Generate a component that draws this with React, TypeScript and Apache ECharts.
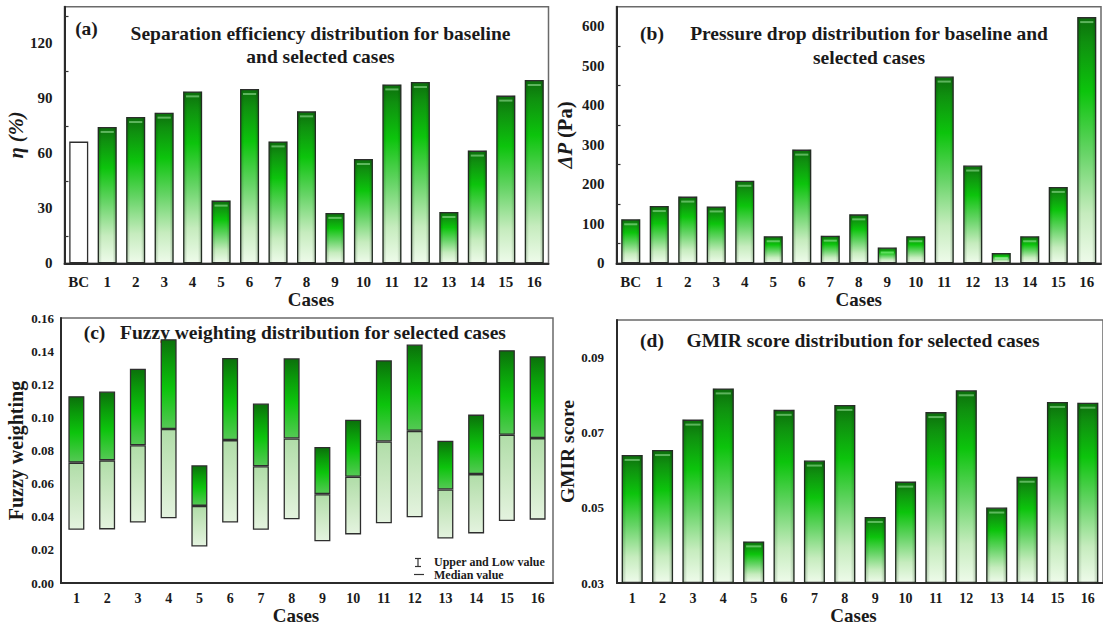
import React, { useEffect, useRef } from 'react';
import * as echarts from 'echarts';

const casesWithBaseline = ['BC', '1', '2', '3', '4', '5', '6', '7', '8', '9', '10', '11', '12', '13', '14', '15', '16'];
const cases = ['1', '2', '3', '4', '5', '6', '7', '8', '9', '10', '11', '12', '13', '14', '15', '16'];

const efficiency = [66.4, 74.4, 79.8, 82.2, 93.8, 34.2, 95.1, 66.5, 82.9, 27.5, 56.9, 97.6, 98.9, 28.0, 61.5, 91.5, 100.0];
const pressureDrop = [111.5, 145, 169, 144, 209, 68.5, 288, 70, 124, 40, 68.5, 473, 247.6, 26, 68.5, 193.5, 623.7];

const fuzzyLow = [0.0322, 0.0324, 0.0365, 0.0391, 0.0221, 0.0365, 0.0322, 0.0385, 0.0253, 0.0294, 0.0361, 0.0397, 0.0269, 0.0300, 0.0375, 0.0383];
const fuzzyMedian = [0.0727, 0.0741, 0.0832, 0.0930, 0.0466, 0.0863, 0.0705, 0.0873, 0.0537, 0.0642, 0.0855, 0.0919, 0.0565, 0.0658, 0.0895, 0.0875];
const fuzzyUpper = [0.1128, 0.1156, 0.1294, 0.1472, 0.0711, 0.1359, 0.1084, 0.1357, 0.0822, 0.0986, 0.1345, 0.1440, 0.0859, 0.1017, 0.1406, 0.1369];

const gmirScore = [0.0641, 0.0654, 0.0735, 0.0818, 0.0411, 0.0761, 0.0626, 0.0774, 0.0476, 0.0570, 0.0755, 0.0813, 0.0501, 0.0583, 0.0782, 0.0780];

const GMIR_MIN = 0.03;
const GMIR_MAX = 0.1;

const FONT = '"Liberation Serif", "Times New Roman", Times, serif';
const TEXT = '#1a1a1a';

const barGradient = () =>
  new echarts.graphic.LinearGradient(0, 0, 0, 1, [
    { offset: 0, color: '#0c6f0c' },
    { offset: 0.1, color: '#0f900f' },
    { offset: 0.3, color: '#0cc40c' },
    { offset: 0.55, color: '#66d466' },
    { offset: 0.8, color: '#c6ecbe' },
    { offset: 1, color: '#eefbea' },
  ]);

const edgeShade = () =>
  new echarts.graphic.LinearGradient(0, 0, 1, 0, [
    { offset: 0, color: 'rgba(0,40,0,0.28)' },
    { offset: 0.22, color: 'rgba(0,40,0,0)' },
    { offset: 0.78, color: 'rgba(0,40,0,0)' },
    { offset: 1, color: 'rgba(0,40,0,0.28)' },
  ]);

const upperGradient = () =>
  new echarts.graphic.LinearGradient(0, 0, 0, 1, [
    { offset: 0, color: '#0b700b' },
    { offset: 0.25, color: '#0a9a0a' },
    { offset: 0.55, color: '#0cc40c' },
    { offset: 1, color: '#55c955' },
  ]);

const lowerGradient = () =>
  new echarts.graphic.LinearGradient(0, 0, 0, 1, [
    { offset: 0, color: '#b0dda8' },
    { offset: 0.5, color: '#cbe8c3' },
    { offset: 1, color: '#e4f3df' },
  ]);

const border = { borderColor: '#2e2e2e', borderWidth: 1.3 };

const axisLine = { lineStyle: { color: '#2b2b2b', width: 2 } };

const labelStyle = (size: number, margin: number) => ({
  color: TEXT,
  fontFamily: FONT,
  fontWeight: 'bold' as const,
  fontSize: size,
  margin,
});

const nameStyle = (size: number, extra: any = {}) => ({
  color: TEXT,
  fontFamily: FONT,
  fontWeight: 'bold' as const,
  fontSize: size,
  ...extra,
});

const gridBox = { show: true, borderColor: '#6a6a6a', borderWidth: 1.5, backgroundColor: 'transparent' };

function mainXAxis(gridIndex: number, data: string[], labelSize: number, margin: number, nameGap: number, namePadding: number[]) {
  return {
    type: 'category',
    gridIndex,
    data,
    position: 'bottom',
    axisLine,
    axisTick: { inside: true, length: 4, alignWithLabel: false, lineStyle: { color: '#333', width: 1.2 } },
    axisLabel: { ...labelStyle(labelSize, margin), interval: 0 },
    splitLine: { show: false },
    name: 'Cases',
    nameLocation: 'middle',
    nameGap,
    nameTextStyle: nameStyle(19, { padding: namePadding }),
  };
}

function centerTickAxis(gridIndex: number, data: string[]) {
  return {
    type: 'category',
    gridIndex,
    data,
    position: 'bottom',
    axisLine: { show: false },
    axisTick: { inside: true, length: 3, alignWithLabel: true, lineStyle: { color: '#333', width: 1.2 } },
    axisLabel: { show: false },
    splitLine: { show: false },
  };
}

const highlight = (xAxisIndex: number, yAxisIndex: number, data: any[], width: number) => ({
  type: 'pictorialBar',
  xAxisIndex,
  yAxisIndex,
  symbol: 'rect',
  symbolSize: [width, 2],
  symbolPosition: 'end',
  symbolOffset: [0, 4],
  itemStyle: { color: 'rgba(190,255,190,0.45)' },
  silent: true,
  z: 5,
  data,
});

const titleText = (x: number, y: number, text: string, extra: any = {}) => ({
  type: 'text',
  x,
  y,
  style: {
    text,
    fontFamily: FONT,
    fontWeight: 'bold',
    fontSize: 19.5,
    fill: TEXT,
    align: 'center',
    verticalAlign: 'middle',
    ...extra,
  },
});

export default function App() {
  const ref = useRef<HTMLDivElement>(null);

  useEffect(() => {
    if (!ref.current) return;
    const chart = echarts.init(ref.current, undefined, { renderer: 'svg' });

    const option: any = {
      animation: false,
      backgroundColor: '#ffffff',
      grid: [
        { left: 64.5, top: 6.7, width: 484, height: 256.6, ...gridBox },
        { left: 616.5, top: 6.7, width: 484.5, height: 256.6, ...gridBox },
        { left: 61, top: 318, width: 492, height: 270.3, ...gridBox },
        { left: 617, top: 320, width: 489, height: 265.3, ...gridBox },
      ],
      xAxis: [
        mainXAxis(0, casesWithBaseline, 15, 11, 24, [0, 0, 0, 9]),
        mainXAxis(1, casesWithBaseline, 15, 11, 24, [0, 0, 0, 0]),
        mainXAxis(2, cases, 14, 8, 16, [0, 22, 0, 0]),
        mainXAxis(3, cases, 14, 8, 19, [0, 13, 0, 0]),
        centerTickAxis(0, casesWithBaseline),
        centerTickAxis(1, casesWithBaseline),
        centerTickAxis(2, cases),
        centerTickAxis(3, cases),
      ],
      yAxis: [
        {
          type: 'value',
          gridIndex: 0,
          min: 0,
          max: 140,
          interval: 30,
          axisLine: { show: true, ...axisLine },
          axisTick: { inside: true, length: 6, lineStyle: { color: '#333', width: 1.2 } },
          minorTick: { show: true, splitNumber: 2, length: 4, lineStyle: { color: '#333', width: 1.2 } },
          axisLabel: { ...labelStyle(15, 12), formatter: (v: number) => (v > 120 ? '' : String(v)) },
          splitLine: { show: false },
          name: 'η (%)',
          nameLocation: 'middle',
          nameRotate: 90,
          nameGap: 33,
          nameTextStyle: nameStyle(20.5, { fontStyle: 'italic' }),
        },
        {
          type: 'value',
          gridIndex: 1,
          min: 0,
          max: 650,
          interval: 100,
          axisLine: { show: true, ...axisLine },
          axisTick: { inside: true, length: 6, lineStyle: { color: '#333', width: 1.2 } },
          minorTick: { show: true, splitNumber: 2, length: 4, lineStyle: { color: '#333', width: 1.2 } },
          axisLabel: { ...labelStyle(15, 12), formatter: (v: number) => (v > 600 ? '' : String(v)) },
          splitLine: { show: false },
          name: '{i|ΔP} (Pa)',
          nameLocation: 'middle',
          nameRotate: 90,
          nameGap: 41,
          nameTextStyle: nameStyle(20.5, {
            rich: { i: { fontFamily: FONT, fontWeight: 'bold', fontStyle: 'italic', fontSize: 20.5, color: TEXT } },
          }),
        },
        {
          type: 'value',
          gridIndex: 2,
          min: 0,
          max: 0.16,
          interval: 0.02,
          axisLine: { show: true, ...axisLine },
          axisTick: { inside: true, length: 5, lineStyle: { color: '#333', width: 1.2 } },
          axisLabel: { ...labelStyle(13, 7), formatter: (v: number) => v.toFixed(2) },
          splitLine: { show: false },
          name: 'Fuzzy weighting',
          nameLocation: 'middle',
          nameRotate: 90,
          nameGap: 35,
          nameTextStyle: nameStyle(20),
        },
        {
          type: 'value',
          gridIndex: 3,
          min: GMIR_MIN,
          max: GMIR_MAX,
          interval: 0.01,
          axisLine: { show: true, ...axisLine },
          axisTick: { inside: true, length: 5, lineStyle: { color: '#333', width: 1.2 } },
          axisLabel: {
            ...labelStyle(13, 13),
            formatter: (v: number) => {
              const k = Math.round(v * 100);
              return k % 2 === 1 && k < 10 ? v.toFixed(2) : '';
            },
          },
          splitLine: { show: false },
          name: 'GMIR score',
          nameLocation: 'middle',
          nameRotate: 90,
          nameGap: 37,
          nameTextStyle: nameStyle(19.5),
        },
      ],
      series: [
        {
          type: 'bar',
          xAxisIndex: 0,
          yAxisIndex: 0,
          barWidth: 19,
          barGap: '-100%',
          itemStyle: { color: barGradient(), ...border },
          data: efficiency.map((v, i) => (i === 0 ? { value: v, itemStyle: { color: '#ffffff' } } : v)),
        },
        {
          type: 'bar',
          xAxisIndex: 0,
          yAxisIndex: 0,
          barWidth: 19,
          barGap: '-100%',
          silent: true,
          z: 3,
          itemStyle: { color: edgeShade(), borderWidth: 0 },
          data: efficiency.map((v, i) => (i === 0 ? { value: v, itemStyle: { color: 'rgba(0,0,0,0)' } } : v)),
        },
        highlight(0, 0, efficiency.map((v, i) => (i === 0 ? { value: v, symbolSize: [0, 0] } : v)), 13),
        {
          type: 'bar',
          xAxisIndex: 1,
          yAxisIndex: 1,
          barWidth: 19,
          barGap: '-100%',
          itemStyle: { color: barGradient(), ...border },
          data: pressureDrop,
        },
        {
          type: 'bar',
          xAxisIndex: 1,
          yAxisIndex: 1,
          barWidth: 19,
          barGap: '-100%',
          silent: true,
          z: 3,
          itemStyle: { color: edgeShade(), borderWidth: 0 },
          data: pressureDrop,
        },
        highlight(1, 1, pressureDrop, 13),
        {
          type: 'bar',
          xAxisIndex: 2,
          yAxisIndex: 2,
          stack: 'fuzzy',
          barWidth: 16,
          silent: true,
          itemStyle: { color: 'rgba(0,0,0,0)' },
          data: fuzzyLow,
        },
        {
          type: 'bar',
          xAxisIndex: 2,
          yAxisIndex: 2,
          stack: 'fuzzy',
          barWidth: 16,
          itemStyle: { color: lowerGradient(), ...border },
          data: fuzzyMedian.map((m, i) => +(m - fuzzyLow[i]).toFixed(5)),
        },
        {
          type: 'bar',
          xAxisIndex: 2,
          yAxisIndex: 2,
          stack: 'fuzzy',
          barWidth: 16,
          itemStyle: { color: upperGradient(), ...border },
          data: fuzzyUpper.map((u, i) => +(u - fuzzyMedian[i]).toFixed(5)),
        },
        {
          type: 'bar',
          xAxisIndex: 3,
          yAxisIndex: 3,
          stack: 'gmir',
          barWidth: 21,
          barGap: '-100%',
          silent: true,
          itemStyle: { color: 'rgba(0,0,0,0)' },
          data: gmirScore.map(() => GMIR_MIN),
        },
        {
          type: 'bar',
          xAxisIndex: 3,
          yAxisIndex: 3,
          stack: 'gmir',
          barWidth: 21,
          barGap: '-100%',
          itemStyle: { color: barGradient(), ...border },
          data: gmirScore.map((g) => +(g - GMIR_MIN).toFixed(5)),
        },
        {
          type: 'bar',
          xAxisIndex: 3,
          yAxisIndex: 3,
          stack: 'gmirShade',
          barWidth: 21,
          barGap: '-100%',
          silent: true,
          itemStyle: { color: 'rgba(0,0,0,0)' },
          data: gmirScore.map(() => GMIR_MIN),
        },
        {
          type: 'bar',
          xAxisIndex: 3,
          yAxisIndex: 3,
          stack: 'gmirShade',
          barWidth: 21,
          barGap: '-100%',
          silent: true,
          z: 3,
          itemStyle: { color: edgeShade(), borderWidth: 0 },
          data: gmirScore.map((g) => +(g - GMIR_MIN).toFixed(5)),
        },
        highlight(3, 3, gmirScore, 15),
      ],
      graphic: [
        titleText(86.5, 28, '(a)'),
        titleText(320.5, 44.5, 'Separation efficiency distribution for baseline\nand selected cases', { lineHeight: 23 }),
        titleText(652, 33, '(b)'),
        titleText(869, 45, 'Pressure drop distribution for baseline and\nselected cases', { lineHeight: 24 }),
        titleText(94.5, 332, '(c)'),
        titleText(313, 332, 'Fuzzy weighting distribution for selected cases'),
        titleText(652, 340, '(d)'),
        titleText(863, 340, 'GMIR score distribution for selected cases'),
        { type: 'line', shape: { x1: 418, y1: 558.5, x2: 418, y2: 566.5 }, style: { stroke: '#333', lineWidth: 1.2 } },
        { type: 'line', shape: { x1: 415, y1: 558.5, x2: 421, y2: 558.5 }, style: { stroke: '#333', lineWidth: 1.2 } },
        { type: 'line', shape: { x1: 415, y1: 566.5, x2: 421, y2: 566.5 }, style: { stroke: '#333', lineWidth: 1.2 } },
        { type: 'line', shape: { x1: 414, y1: 574.5, x2: 424, y2: 574.5 }, style: { stroke: '#333', lineWidth: 1.2 } },
        { type: 'text', x: 434, y: 562, style: { text: 'Upper and Low value', fontFamily: FONT, fontWeight: 'bold', fontSize: 12, fill: TEXT, align: 'left', verticalAlign: 'middle' } },
        { type: 'text', x: 434, y: 575, style: { text: 'Median value', fontFamily: FONT, fontWeight: 'bold', fontSize: 12, fill: TEXT, align: 'left', verticalAlign: 'middle' } },
      ],
    };

    chart.setOption(option);
    return () => chart.dispose();
  }, []);

  return (
    <div
      ref={ref}
      style={{ position: 'absolute', left: 0, top: 0, width: 1103, height: 626, background: '#fff' }}
    />
  );
}
